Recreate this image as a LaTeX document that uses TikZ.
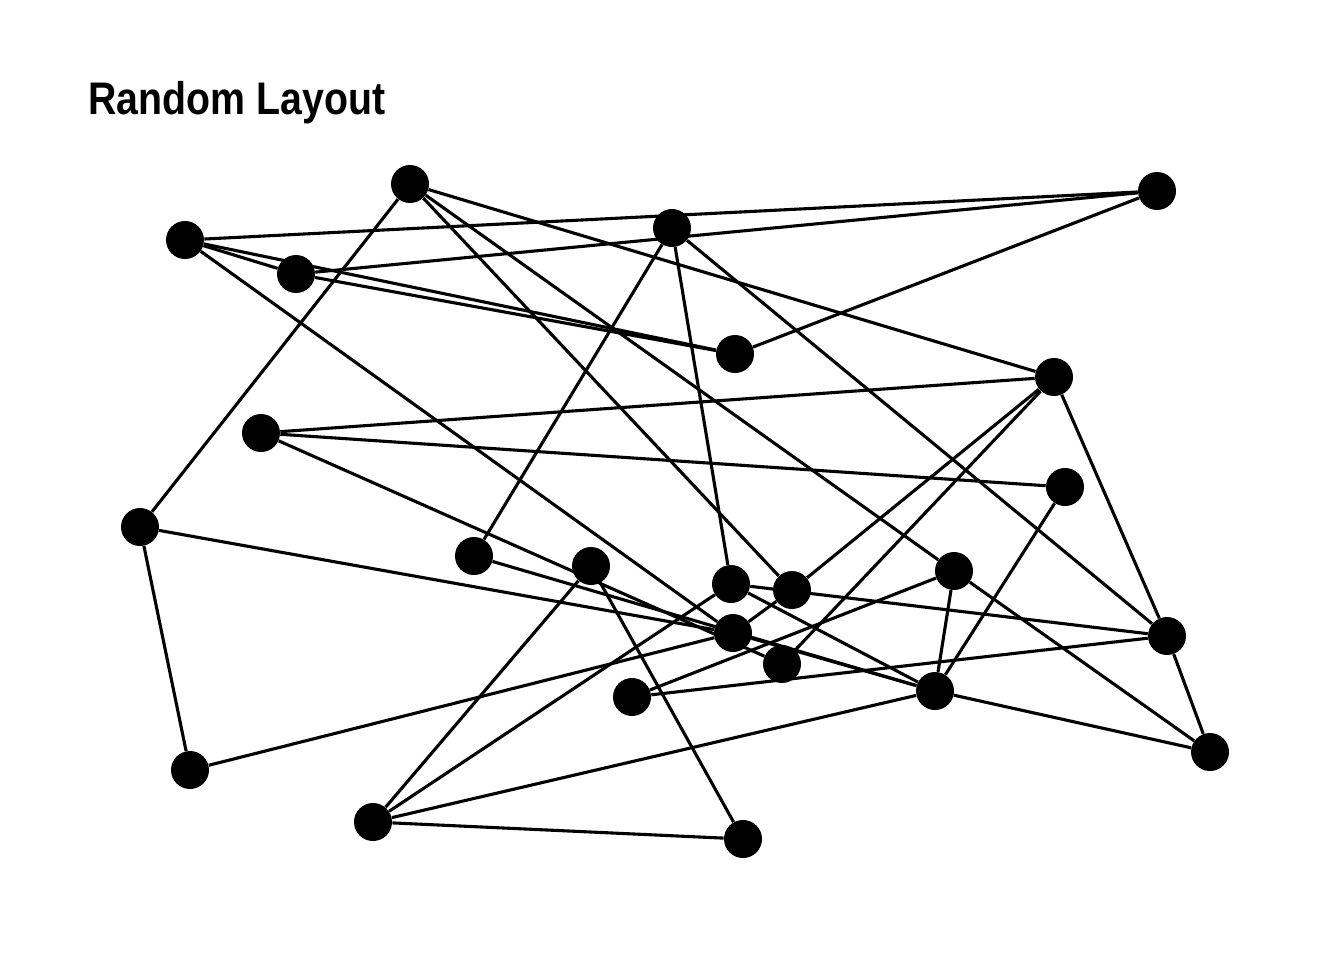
\documentclass[tikz,border=0pt]{standalone}
\usepackage{fontspec}
\setmainfont{Liberation Sans}
\newfontfamily\titlefont[FakeStretch=0.86]{Liberation Sans}
\usepackage{tikz}
\usetikzlibrary{positioning}

\begin{document}
\begin{tikzpicture}[
  x = 0.02cm,
  y = -0.02cm,
  vertex/.style = {
    circle,
    fill = black,
    inner sep = 0pt,
    minimum size = 0.76cm,
  },
  link/.style = {
    draw,
    line width = 0.062cm,
  },
]

  \useasboundingbox (0,0) rectangle (1344,960);

  \node[anchor=base west, inner sep=0pt] (title) at (88,114)
    {\titlefont\fontsize{26}{30}\selectfont\bfseries Random Layout};

  \node[vertex] (a) at (410,184) {};
  \node[vertex] (b) at (1157,191) {};
  \node[vertex] (c) at (185,240) {};
  \node[vertex] (d) at (672,228) {};
  \node[vertex] (e) at (296,274) {};
  \node[vertex] (f) at (735,354) {};
  \node[vertex] (g) at (1054,377) {};
  \node[vertex] (h) at (261,433) {};
  \node[vertex] (i) at (1065,487) {};
  \node[vertex] (j) at (140,527) {};
  \node[vertex] (k) at (474,556) {};
  \node[vertex] (l) at (591,566) {};
  \node[vertex] (m) at (731,584) {};
  \node[vertex] (n) at (792,590) {};
  \node[vertex] (o) at (954,571) {};
  \node[vertex] (p) at (733,633) {};
  \node[vertex] (q) at (1167,636) {};
  \node[vertex] (r) at (782,664) {};
  \node[vertex] (s) at (632,697) {};
  \node[vertex] (t) at (935,691) {};
  \node[vertex] (u) at (1210,752) {};
  \node[vertex] (v) at (190,770) {};
  \node[vertex] (w) at (373,822) {};
  \node[vertex] (x) at (743,839) {};

  \path[link] (a) edge (j) edge (g) edge (o) edge (n);
  \path[link] (b) edge (c) edge (e) edge (f);
  \path[link] (c) edge (e) edge (f) edge (p);
  \path[link] (e) edge (f);
  \path[link] (d) edge (k) edge (m) edge (q);
  \path[link] (g) edge (h) edge (n) edge (r) edge (q);
  \path[link] (h) edge (i) edge (r);
  \path[link] (i) edge (t);
  \path[link] (j) edge (v) edge (p);
  \path[link] (k) edge (t);
  \path[link] (l) edge (w) edge (x);
  \path[link] (m) edge (w) edge (t) edge (q);
  \path[link] (n) edge (p);
  \path[link] (o) edge (s) edge (t) edge (u);
  \path[link] (p) edge (v) edge (t);
  \path[link] (q) edge (s) edge (u);
  \path[link] (t) edge (w) edge (u);
  \path[link] (w) edge (x);

\end{tikzpicture}
\end{document}
